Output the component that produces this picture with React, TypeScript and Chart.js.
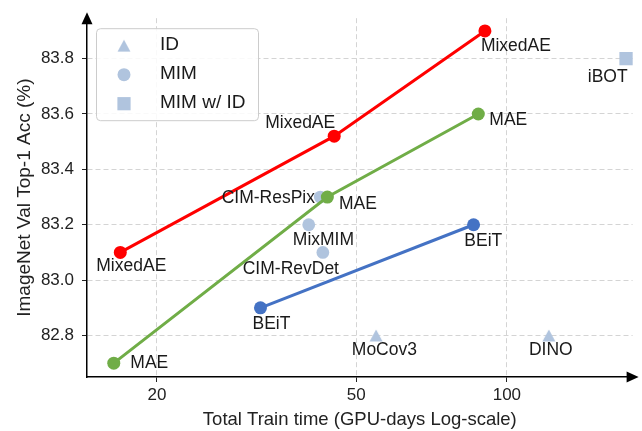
import React, { useEffect, useRef } from 'react';
import { Chart, registerables } from 'chart.js';

Chart.register(...registerables);

// ---------------- data ----------------
const mixedAENames = ['MixedAE', 'MixedAE', 'MixedAE'];
const mixedAETime = [16.9, 45.2, 90.4];
const mixedAEAcc = [83.1, 83.52, 83.9];

const maeNames = ['MAE', 'MAE', 'MAE'];
const maeTime = [16.4, 43.8, 87.7];
const maeAcc = [82.7, 83.3, 83.6];

const beitNames = ['BEiT', 'BEiT'];
const beitTime = [32.2, 85.8];
const beitAcc = [82.9, 83.2];

const idNames = ['MoCov3', 'DINO'];
const idTime = [54.8, 121.3];
const idAcc = [82.8, 82.8];

const mimNames = ['CIM-ResPix', 'MixMIM', 'CIM-RevDet'];
const mimTime = [42.4, 40.2, 42.9];
const mimAcc = [83.3, 83.2, 83.1];

const mimIdNames = ['iBOT'];
const mimIdTime = [173];
const mimIdAcc = [83.8];

const xTicks = [20, 50, 100];
const yTicks = [82.8, 83.0, 83.2, 83.4, 83.6, 83.8];
const legendLabels = ['ID', 'MIM', 'MIM w/ ID'];

const xTitle = 'Total Train time (GPU-days Log-scale)';
const yTitle = 'ImageNet Val Top-1 Acc (%)';

// ---------------- styles ----------------
const FONT = '"Liberation Sans", Arial, sans-serif';
const RED = '#ff0000';
const GREEN = '#70ad47';
const BLUE = '#4472c4';
const LIGHT = '#b0c4de';
const TEXT = '#1a1a1a';

// label offsets (px) relative to each point, per dataset
const LABEL_OFFSETS: number[][][] = [
  [[11, 13.5], [-34, -12.5], [31, 15.6]],
  [[35.5, 0], [30.5, 6.7], [30, 6.6]],
  [[11, 16.7], [9.7, 16]],
  [[8.3, 15], [2, 15]],
  [[-52, 1], [14.7, 15], [-32, 16.3]],
  [[-18.3, 18.3]],
];

function makeTriangle(color: string) {
  const c = document.createElement('canvas');
  c.width = 14;
  c.height = 13;
  const g = c.getContext('2d')!;
  g.fillStyle = color;
  g.beginPath();
  g.moveTo(7, 0.5);
  g.lineTo(13.5, 12.5);
  g.lineTo(0.5, 12.5);
  g.closePath();
  g.fill();
  return c;
}

const toXY = (xs: number[], ys: number[]) => xs.map((x, i) => ({ x, y: ys[i] }));

export default function App() {
  const ref = useRef<HTMLCanvasElement | null>(null);

  useEffect(() => {
    document.body.style.margin = '0';
    const canvas = ref.current!;
    const tri = makeTriangle(LIGHT);

    const pointLabels = {
      id: 'pointLabels',
      afterDatasetsDraw(chart: any) {
        const ctx = chart.ctx;
        ctx.save();
        ctx.font = `17.5px ${FONT}`;
        ctx.fillStyle = TEXT;
        ctx.textAlign = 'center';
        ctx.textBaseline = 'middle';
        chart.data.datasets.forEach((ds: any, di: number) => {
          const meta = chart.getDatasetMeta(di);
          meta.data.forEach((el: any, i: number) => {
            const off = LABEL_OFFSETS[di][i];
            ctx.fillText(ds.pointNames[i], el.x + off[0], el.y + off[1]);
          });
        });
        ctx.restore();
      },
    };

    const decorations = {
      id: 'decorations',
      afterDraw(chart: any) {
        const ctx = chart.ctx;
        const { left, right, top, bottom } = chart.chartArea;
        ctx.save();
        // axis arrows
        ctx.fillStyle = '#000';
        ctx.beginPath();
        ctx.moveTo(right + 6, bottom);
        ctx.lineTo(right - 6, bottom - 5.5);
        ctx.lineTo(right - 6, bottom + 5.5);
        ctx.closePath();
        ctx.fill();
        ctx.beginPath();
        ctx.moveTo(left, top - 6);
        ctx.lineTo(left - 5.5, top + 6);
        ctx.lineTo(left + 5.5, top + 6);
        ctx.closePath();
        ctx.fill();

        // legend
        const bx = left + 9.5;
        const by = top + 10.5;
        const bw = 162;
        const bh = 92;
        ctx.beginPath();
        ctx.roundRect(bx, by, bw, bh, 4);
        ctx.fillStyle = 'rgba(255,255,255,0.85)';
        ctx.fill();
        ctx.strokeStyle = '#cccccc';
        ctx.lineWidth = 1;
        ctx.stroke();

        const mx = bx + 27.5;
        const rows = [by + 17, by + 46, by + 75];
        ctx.drawImage(tri, mx - 7, rows[0] - 6.5);
        ctx.fillStyle = LIGHT;
        ctx.beginPath();
        ctx.arc(mx, rows[1], 6.5, 0, Math.PI * 2);
        ctx.fill();
        ctx.fillRect(mx - 6.6, rows[2] - 6.6, 13.2, 13.2);

        ctx.fillStyle = TEXT;
        ctx.font = `19px ${FONT}`;
        ctx.textAlign = 'left';
        ctx.textBaseline = 'middle';
        legendLabels.forEach((t, i) => ctx.fillText(t, bx + 63.5, rows[i] - 0.5));
        ctx.restore();
      },
    };

    const chart = new Chart(canvas, {
      type: 'line',
      data: {
        datasets: [
          {
            label: 'MixedAE',
            data: toXY(mixedAETime, mixedAEAcc),
            pointNames: mixedAENames,
            borderColor: RED,
            backgroundColor: RED,
            borderWidth: 3,
            pointRadius: 6.5,
            pointBorderWidth: 0,
            pointBackgroundColor: RED,
            clip: false,
          } as any,
          {
            label: 'MAE',
            data: toXY(maeTime, maeAcc),
            pointNames: maeNames,
            borderColor: GREEN,
            backgroundColor: GREEN,
            borderWidth: 3,
            pointRadius: 6.5,
            pointBorderWidth: 0,
            pointBackgroundColor: GREEN,
            clip: false,
          } as any,
          {
            label: 'BEiT',
            data: toXY(beitTime, beitAcc),
            pointNames: beitNames,
            borderColor: BLUE,
            backgroundColor: BLUE,
            borderWidth: 3,
            pointRadius: 6.5,
            pointBorderWidth: 0,
            pointBackgroundColor: BLUE,
            clip: false,
          } as any,
          {
            label: 'ID',
            data: toXY(idTime, idAcc),
            pointNames: idNames,
            showLine: false,
            pointStyle: tri,
            pointRadius: 7,
            pointBackgroundColor: LIGHT,
            pointBorderWidth: 0,
            clip: false,
          } as any,
          {
            label: 'MIM',
            data: toXY(mimTime, mimAcc),
            pointNames: mimNames,
            showLine: false,
            pointStyle: 'circle',
            pointRadius: 6.4,
            pointBackgroundColor: LIGHT,
            pointBorderWidth: 0,
            clip: false,
          } as any,
          {
            label: 'MIM w/ ID',
            data: toXY(mimIdTime, mimIdAcc),
            pointNames: mimIdNames,
            showLine: false,
            pointStyle: 'rect',
            pointRadius: 9.4,
            pointBackgroundColor: LIGHT,
            pointBorderWidth: 0,
            clip: false,
          } as any,
        ],
      },
      options: {
        animation: false,
        responsive: false,
        maintainAspectRatio: false,
        devicePixelRatio: 1,
        events: [],
        layout: { padding: { top: 14, right: 8, left: 0, bottom: 0 } },
        plugins: { legend: { display: false }, tooltip: { enabled: false } },
        scales: {
          x: {
            type: 'logarithmic',
            min: 14.5,
            max: 178.3,
            afterBuildTicks: (s: any) => {
              s.ticks = xTicks.map((v) => ({ value: v }));
            },
            afterFit: (s: any) => {
              s.height = 54;
            },
            ticks: {
              callback: (v: any) => String(v),
              font: { family: FONT, size: 17 },
              color: '#222',
              padding: 3,
              maxRotation: 0,
              autoSkip: false,
            },
            grid: { color: '#d4d4d4', lineWidth: 1, tickColor: '#222', tickLength: 5, tickWidth: 1 },
            border: { display: true, color: '#000', width: 1.5, dash: [5, 3] },
            title: {
              display: true,
              text: xTitle,
              font: { family: FONT, size: 18.5 },
              color: '#222',
              padding: { top: 0, bottom: 0 },
            },
          },
          y: {
            type: 'linear',
            min: 82.65,
            max: 83.946,
            afterBuildTicks: (s: any) => {
              s.ticks = yTicks.map((v) => ({ value: v }));
            },
            afterFit: (s: any) => {
              s.width = 87;
            },
            ticks: {
              callback: (v: any) => Number(v).toFixed(1),
              font: { family: FONT, size: 17 },
              color: '#222',
              padding: 8,
              autoSkip: false,
            },
            grid: { color: '#d4d4d4', lineWidth: 1, tickColor: '#222', tickLength: 5, tickWidth: 1 },
            border: { display: true, color: '#000', width: 1.5, dash: [5, 3] },
            title: {
              display: true,
              text: yTitle,
              font: { family: FONT, size: 19 },
              color: '#222',
              padding: { top: 13, bottom: 0 },
            },
          },
        },
      } as any,
      plugins: [pointLabels, decorations],
    });

    return () => chart.destroy();
  }, []);

  return (
    <div style={{ width: 642, height: 431 }}>
      <canvas ref={ref} width={642} height={431} style={{ display: 'block' }} />
    </div>
  );
}
